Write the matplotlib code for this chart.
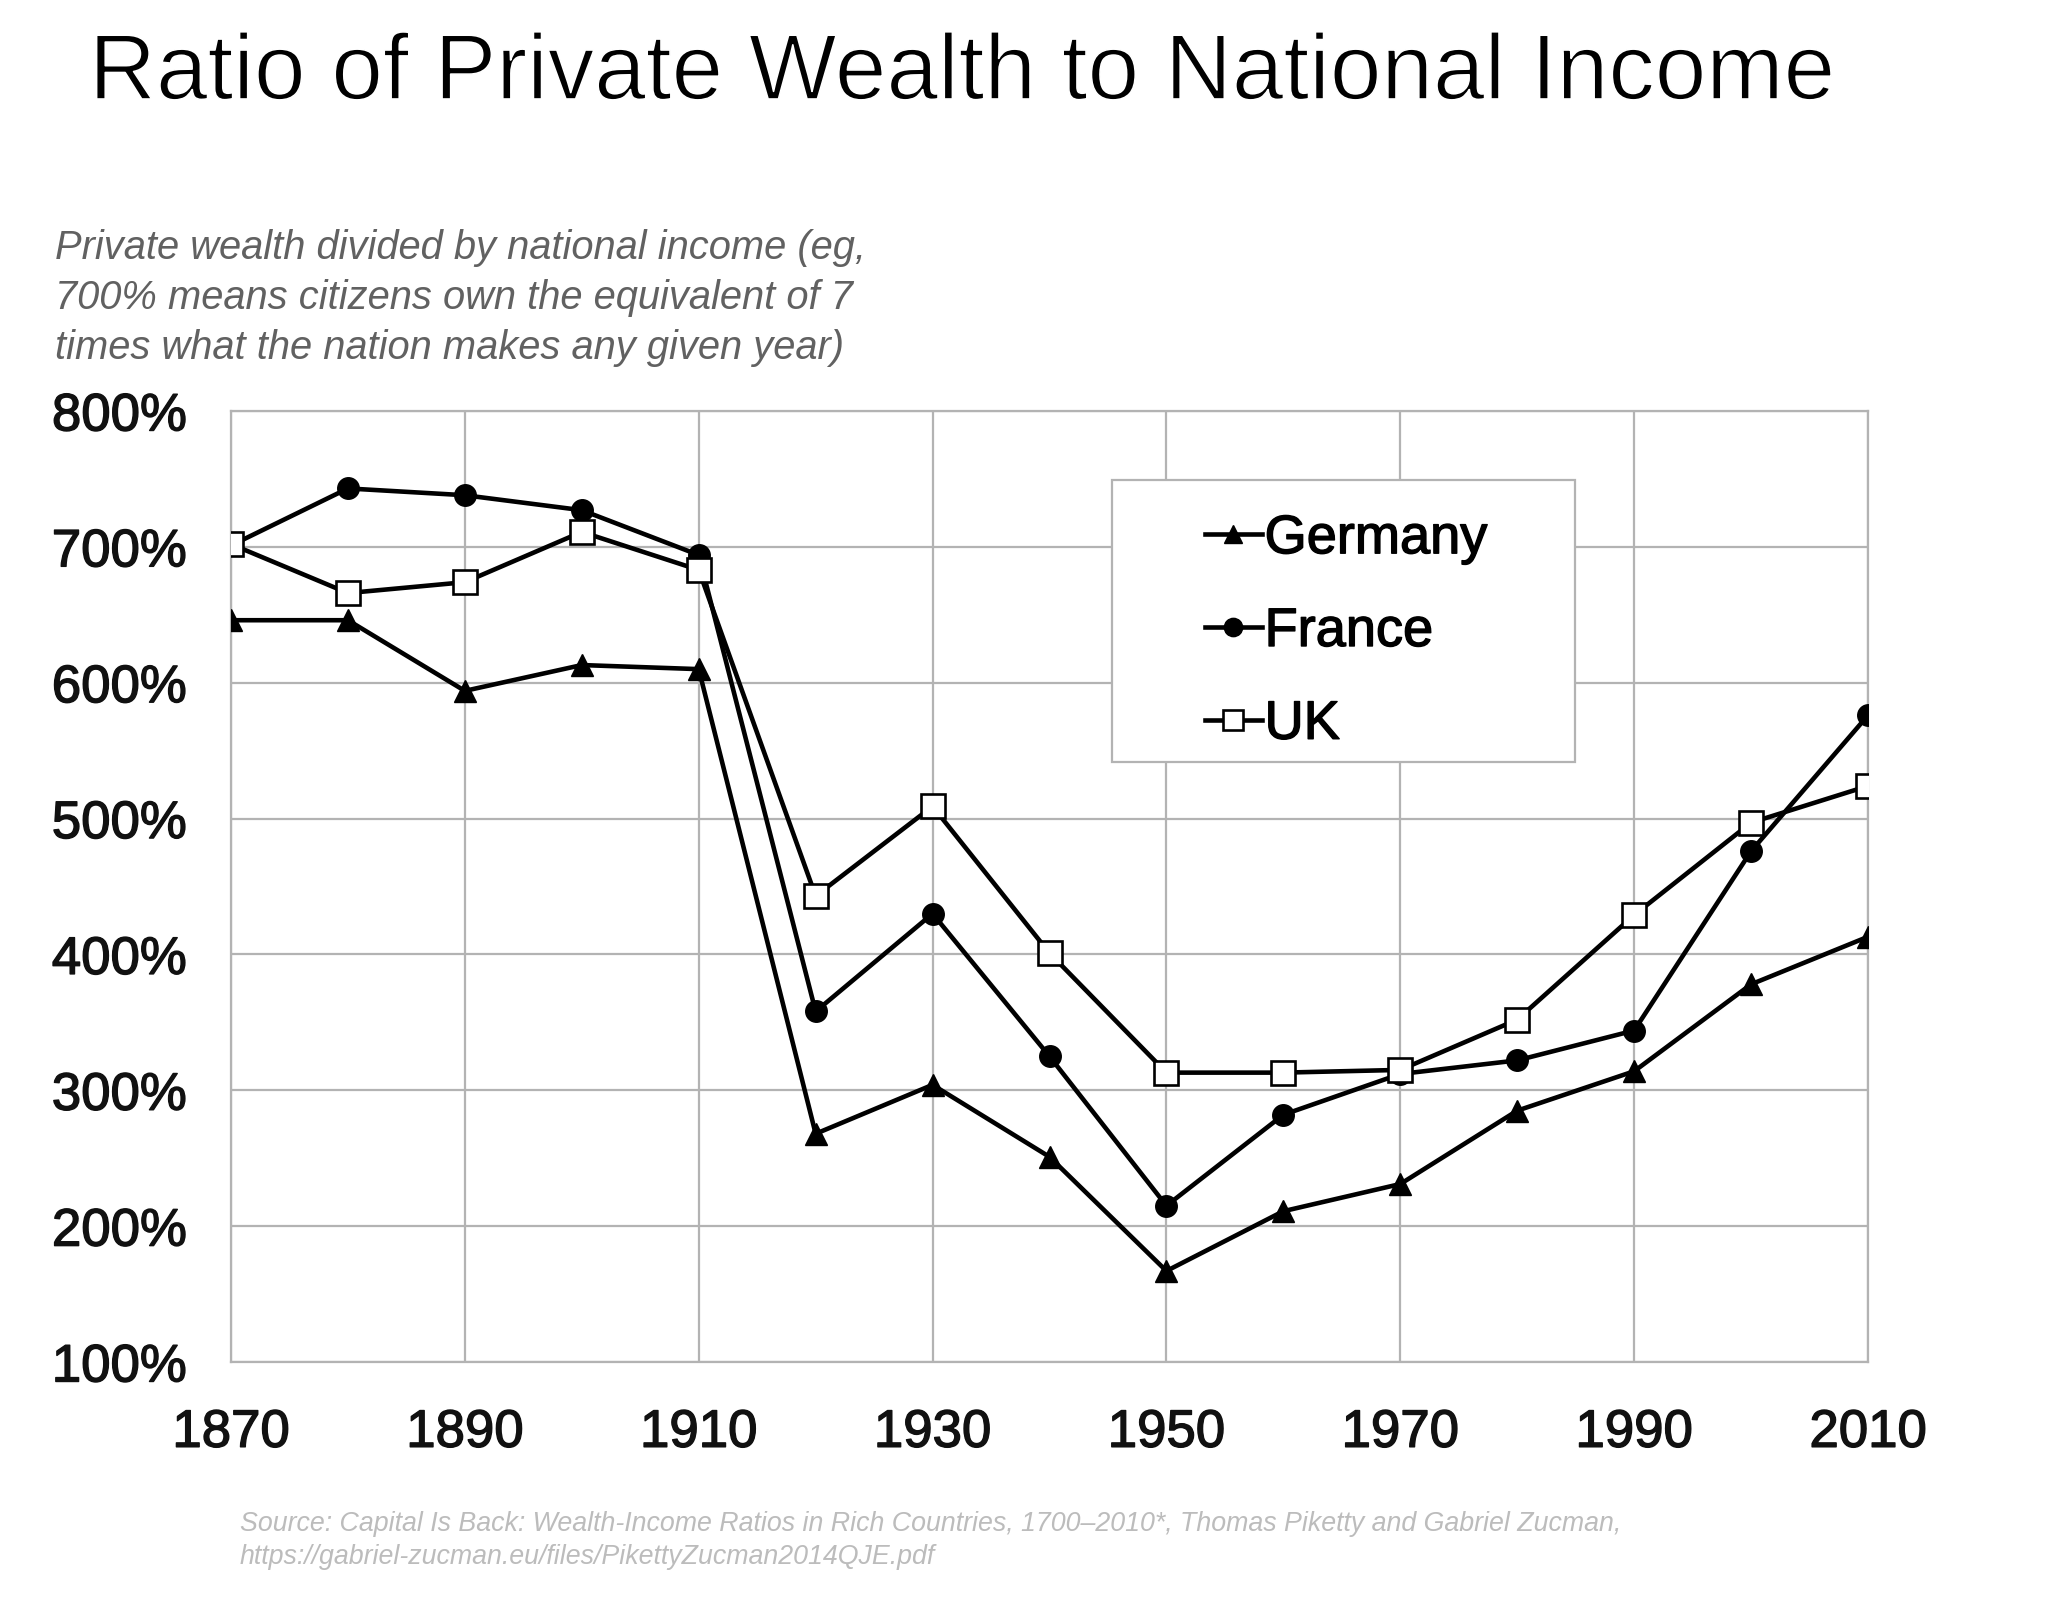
import matplotlib
matplotlib.use("Agg")
import matplotlib.pyplot as plt
from matplotlib.ticker import FuncFormatter
from matplotlib.patches import Rectangle
import matplotlib.patheffects as pe

years = [1870, 1880, 1890, 1900, 1910, 1920, 1930, 1940, 1950, 1960, 1970, 1980, 1990, 2000, 2010]
germany = [646, 646, 594, 613, 610, 268, 304, 251, 167, 211, 231, 285, 314, 378, 413]
france = [701, 743, 738, 727, 694, 358, 430, 325, 215, 282, 312, 322, 344, 476, 576]
uk = [702, 666, 674, 711, 683, 443, 509, 401, 313, 313, 315, 352, 429, 497, 524]

x_ticks = [1870, 1890, 1910, 1930, 1950, 1970, 1990, 2010]
y_ticks = [100, 200, 300, 400, 500, 600, 700, 800]

title = "Ratio of Private Wealth to National Income"
subtitle = ["Private wealth divided by national income (eg,",
            "700% means citizens own the equivalent of 7",
            "times what the nation makes any given year)"]
source = ["Source: Capital Is Back: Wealth-Income Ratios in Rich Countries, 1700\u20132010*, Thomas Piketty and Gabriel Zucman,",
          "https://gabriel-zucman.eu/files/PikettyZucman2014QJE.pdf"]

W, H = 2048, 1616
fig = plt.figure(figsize=(W / 100, H / 100), dpi=100)
fig.patch.set_facecolor("white")
FONT = "Liberation Sans"

left, right, top, bottom = 231, 1868, 411, 1362
ax = fig.add_axes([left / W, 1 - bottom / H, (right - left) / W, (bottom - top) / H])

grid_c = "#b3b3b3"
lw = 3.3
ax.plot(years, germany, color="black", lw=lw, marker="^", ms=16, mfc="black", mec="black", label="Germany", zorder=3)
ax.plot(years, france, color="black", lw=lw, marker="o", ms=15.5, mfc="black", mec="black", label="France", zorder=3)
ax.plot(years, uk, color="black", lw=lw, marker="s", ms=17, mfc="white", mec="black", mew=1.9, label="UK", zorder=4)

ax.set_xlim(1870, 2010)
ax.set_ylim(100, 800)
ax.set_xticks(x_ticks)
ax.set_yticks(y_ticks)
ax.yaxis.set_major_formatter(FuncFormatter(lambda v, p: f"{int(v)}%"))
ax.grid(True, color=grid_c, lw=1.6)
ax.set_axisbelow(True)
for s in ax.spines.values():
    s.set_color(grid_c)
    s.set_linewidth(1.6)
ax.tick_params(length=0, labelsize=38, colors="#111111")
ax.tick_params(axis="y", pad=32)
ax.tick_params(axis="x", pad=33)
bold_fx = [pe.withStroke(linewidth=1.0, foreground="#111111")]
for lab in ax.get_xticklabels() + ax.get_yticklabels():
    lab.set_fontfamily(FONT)
    lab.set_path_effects(bold_fx)

# legend box (frame) and entries
ax.add_patch(Rectangle((1112 / W, 1 - 762 / H), (1575 - 1112) / W, (762 - 480) / H,
                       transform=fig.transFigure, facecolor="white", edgecolor=grid_c,
                       lw=1.6, zorder=5, clip_on=False))
leg = ax.legend(loc="center left", bbox_to_anchor=(1205 / W, 1 - 632 / H), bbox_transform=fig.transFigure,
                prop={"family": FONT, "size": 39}, frameon=False,
                handlelength=1.05, handletextpad=0.05, borderpad=0,
                labelspacing=0.79, borderaxespad=0, markerscale=0.85)
leg.set_zorder(6)
for t in leg.get_texts():
    t.set_path_effects([pe.withStroke(linewidth=1.0, foreground="black")])

renderer = fig.canvas.get_renderer()


def fit_text(x, y, s, target_w, fs, **kw):
    t = fig.text(x / W, 1 - y / H, s, fontsize=fs, **kw)
    w = t.get_window_extent(renderer).width
    t.set_fontsize(fs * target_w / w)
    return t


ttl = fit_text(89, 75, title, 1748, 68, fontfamily=FONT, va="center", ha="left", color="black")
ttl.set_path_effects([pe.Normal(), pe.Stroke(linewidth=1.2, foreground="white")])
sub0 = fit_text(55, 248, subtitle[0], 810, 30, fontfamily=FONT, style="italic",
                va="center", ha="left", color="#616161")
sfs = sub0.get_fontsize()
for i, line in enumerate(subtitle[1:], start=1):
    fig.text(55 / W, 1 - (248 + 50 * i) / H, line, fontsize=sfs, fontfamily=FONT, style="italic",
             va="center", ha="left", color="#616161")
src0 = fit_text(240, 1524, source[0], 1382, 18, fontfamily=FONT, style="italic",
                va="center", ha="left", color="#bcbcbc")
fig.text(240 / W, 1 - 1557 / H, source[1], fontsize=src0.get_fontsize(), fontfamily=FONT, style="italic",
         va="center", ha="left", color="#bcbcbc")

fig.savefig("out.png", dpi=100, facecolor="white")
